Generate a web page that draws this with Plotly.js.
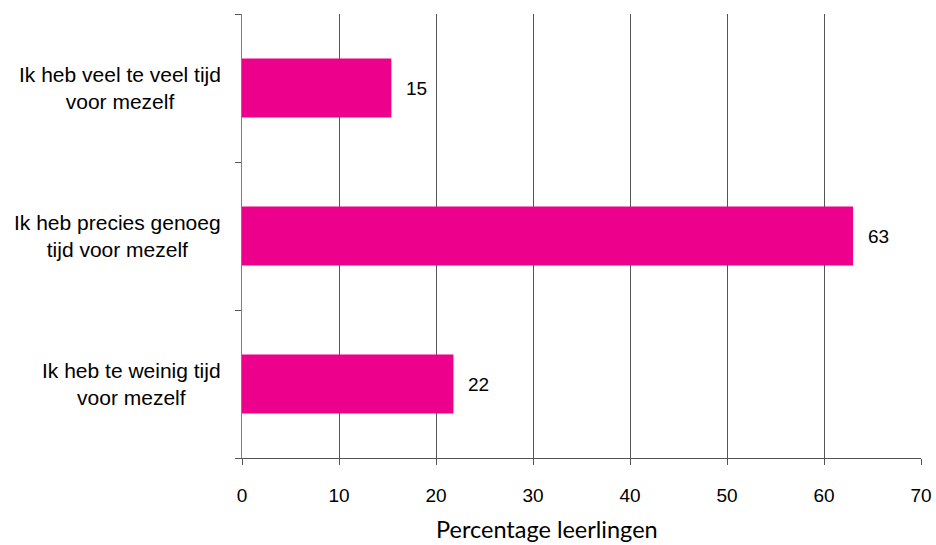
<!DOCTYPE html>
<html>
<head>
<meta charset="utf-8">
<script src="https://cdn.plot.ly/plotly-3.0.1.min.js"></script>
<style>html,body{margin:0;padding:0;background:#fff;}#chart{width:936px;height:545px;}</style>
</head>
<body>
<div id="chart"></div>
<script>
const categories = ["Ik heb te weinig tijd<br>voor mezelf", "Ik heb precies genoeg<br>tijd voor mezelf", "Ik heb veel te veel tijd<br>voor mezelf"];
const values = [21.8, 63.0, 15.4];
const valueLabels = ["22", "63", "15"];
const xTicks = [0, 10, 20, 30, 40, 50, 60, 70];

const ids = categories.map((c, i) => "c" + i);

const trace = {
  type: "bar",
  orientation: "h",
  y: ids,
  x: values,
  width: 0.4,
  marker: {color: "#EC008C", line: {width: 0}},
  hoverinfo: "none"
};

const annotations = [];
categories.forEach((c, i) => {
  annotations.push({
    xref: "paper", yref: "y", x: 0, y: ids[i], xanchor: "right", yanchor: "middle",
    xshift: -19, text: c, showarrow: false, align: "center",
    font: {family: "Liberation Sans, Arial, sans-serif", size: 21, color: "#000"}
  });
  annotations.push({
    xref: "x", yref: "y", x: values[i], y: ids[i], xanchor: "left", yanchor: "middle",
    xshift: 13, text: valueLabels[i], showarrow: false,
    font: {family: "Liberation Sans, Arial, sans-serif", size: 19, color: "#000"}
  });
});
annotations.push({
  xref: "paper", yref: "paper", x: 0.4485, y: 0, yshift: -86, xanchor: "center", yanchor: "bottom",
  borderpad: 0,
  text: "Percentage leerlingen", showarrow: false,
  font: {family: "Lato, Open Sans, sans-serif", size: 23.5, color: "#000"}
});

const layout = {
  width: 936, height: 545,
  margin: {l: 242, r: 15, t: 14, b: 87},
  paper_bgcolor: "#fff", plot_bgcolor: "#fff",
  showlegend: false,
  xaxis: {
    range: [0, 70], tickvals: xTicks, ticktext: xTicks.map(String),
    showgrid: true, gridcolor: "#555", gridwidth: 1,
    zeroline: false, showline: true, linecolor: "#555", linewidth: 1,
    ticks: "outside", ticklen: 6, tickcolor: "#555", ticklabelstandoff: 14,
    tickfont: {family: "Liberation Sans, Arial, sans-serif", size: 19, color: "#000"}
  },
  yaxis: {
    type: "category", categoryarray: ids, categoryorder: "array",
    range: [-0.5, 2.5],
    showticklabels: false, showgrid: false, zeroline: false,
    showline: true, linecolor: "#808080", linewidth: 1,
    ticks: "outside", tickson: "boundaries", ticklen: 6, tickcolor: "#555"
  },
  annotations: annotations
};

Plotly.newPlot("chart", [trace], layout, {staticPlot: true, displayModeBar: false});
</script>
</body>
</html>
